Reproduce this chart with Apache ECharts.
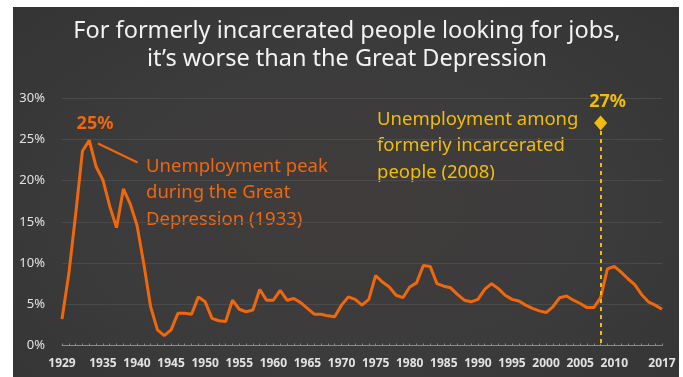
<!DOCTYPE html>
<html>
<head>
<meta charset="utf-8">
<script src="https://cdn.jsdelivr.net/npm/echarts@6/dist/echarts.min.js"></script>
<style>
html,body{margin:0;padding:0;background:#fff;width:683px;height:377px;overflow:hidden;}
#bg{position:absolute;left:13px;top:7px;width:666px;height:370px;
background:radial-gradient(ellipse at 50% 55%, #403c3b 0%, #3c3b3b 55%, #343434 100%);}
#chart{position:absolute;left:0;top:0;width:683px;height:377px;}
</style>
</head>
<body>
<div id="bg"></div>
<div id="chart"></div>
<script>
var years = [];
for (var y = 1929; y <= 2017; y++) years.push(String(y));
var unemployment = [
3.2, 8.7, 15.9, 23.6, 24.9, 21.7, 20.1, 16.9, 14.3, 19.0,
17.2, 14.6, 9.9, 4.7, 1.9, 1.2, 1.9, 3.9, 3.9, 3.8,
5.9, 5.3, 3.3, 3.0, 2.9, 5.5, 4.4, 4.1, 4.3, 6.8,
5.5, 5.5, 6.7, 5.5, 5.7, 5.2, 4.5, 3.8, 3.8, 3.6,
3.5, 4.9, 5.9, 5.6, 4.9, 5.6, 8.5, 7.7, 7.1, 6.1,
5.8, 7.1, 7.6, 9.7, 9.6, 7.5, 7.2, 7.0, 6.2, 5.5,
5.3, 5.6, 6.8, 7.5, 6.9, 6.1, 5.6, 5.4, 4.9, 4.5,
4.2, 4.0, 4.7, 5.8, 6.0, 5.5, 5.1, 4.6, 4.6, 5.8,
9.3, 9.6, 8.9, 8.1, 7.4, 6.2, 5.3, 4.9, 4.4
];
var shownYears = ['1929','1935','1940','1945','1950','1955','1960','1965','1970','1975','1980','1985','1990','1995','2000','2005','2010','2017'];
var incarceratedYear = '2008';
var incarceratedRate = 27;
var titleLines = ['For formerly incarcerated people looking for jobs,', 'it\u2019s worse than the Great Depression'];

var FONT = '"Noto Sans", Lato, sans-serif';
var ORANGE = '#f0670c';
var YELLOW = '#f2bd0a';

var chart = echarts.init(document.getElementById('chart'), null, {renderer:'canvas'});
chart.setOption({
  animation: false,
  backgroundColor: 'transparent',
  grid: {left: 62, right: 21, top: 98.3, bottom: 31.5, containLabel: false},
  xAxis: {
    type: 'category', data: years, boundaryGap: false,
    axisLine: {lineStyle: {color: '#8a8a8a', width: 1}},
    axisTick: {show: true, inside: true, length: 2, interval: 0, lineStyle: {color: '#8a8a8a'}},
    axisLabel: {
      interval: function (i, v) { return shownYears.indexOf(v) >= 0; },
      color: '#e2e2e2', fontSize: 12, fontFamily: FONT, fontWeight: 'bold', margin: 12
    },
    splitLine: {show: false}
  },
  yAxis: {
    type: 'value', min: 0, max: 30, interval: 5,
    axisLine: {show: false}, axisTick: {show: false},
    axisLabel: {formatter: '{value}%', color: '#e2e2e2', fontSize: 13, fontFamily: FONT, margin: 17},
    splitLine: {lineStyle: {color: '#4a4a4a', width: 1}}
  },
  series: [{
    type: 'line', data: unemployment, showSymbol: false,
    lineStyle: {color: ORANGE, width: 3}, z: 3,
    markLine: {
      silent: true, symbol: 'none',
      lineStyle: {color: YELLOW, type: [4, 4], width: 2},
      label: {show: false},
      data: [[{coord: [incarceratedYear, incarceratedRate]}, {coord: [incarceratedYear, 0]}]]
    },
    markPoint: {
      silent: true,
      symbol: 'diamond', symbolSize: [13, 15],
      itemStyle: {color: YELLOW},
      label: {show: true, position: 'top', distance: 5, offset: [7, 0], formatter: incarceratedRate + '%',
        color: YELLOW, fontSize: 18, fontWeight: 'bold', fontFamily: FONT},
      data: [{coord: [incarceratedYear, incarceratedRate]}]
    }
  }],
  graphic: [
    {type: 'text', x: 347, y: 31, style: {text: titleLines[0], fill: '#f2f2f2', font: '23.5px ' + FONT, textAlign: 'center', textVerticalAlign: 'middle'}},
    {type: 'text', x: 347, y: 59, style: {text: titleLines[1], fill: '#f2f2f2', font: '23.5px ' + FONT, textAlign: 'center', textVerticalAlign: 'middle'}},
    {type: 'text', x: 95, y: 124, style: {text: '25%', fill: ORANGE, font: 'bold 18px ' + FONT, textAlign: 'center', textVerticalAlign: 'middle'}},
    {type: 'line', shape: {x1: 98, y1: 143.5, x2: 137.5, y2: 162.5}, style: {stroke: ORANGE, lineWidth: 2}},
    {type: 'text', x: 146, y: 153, style: {text: 'Unemployment peak\nduring the Great\nDepression (1933)', fill: ORANGE, font: '18.5px ' + FONT, lineHeight: 26.5}},
    {type: 'text', x: 377, y: 106, style: {text: 'Unemployment among\nformerly incarcerated\npeople (2008)', fill: YELLOW, font: '18.5px ' + FONT, lineHeight: 26.5}}
  ]
});
</script>
</body>
</html>
